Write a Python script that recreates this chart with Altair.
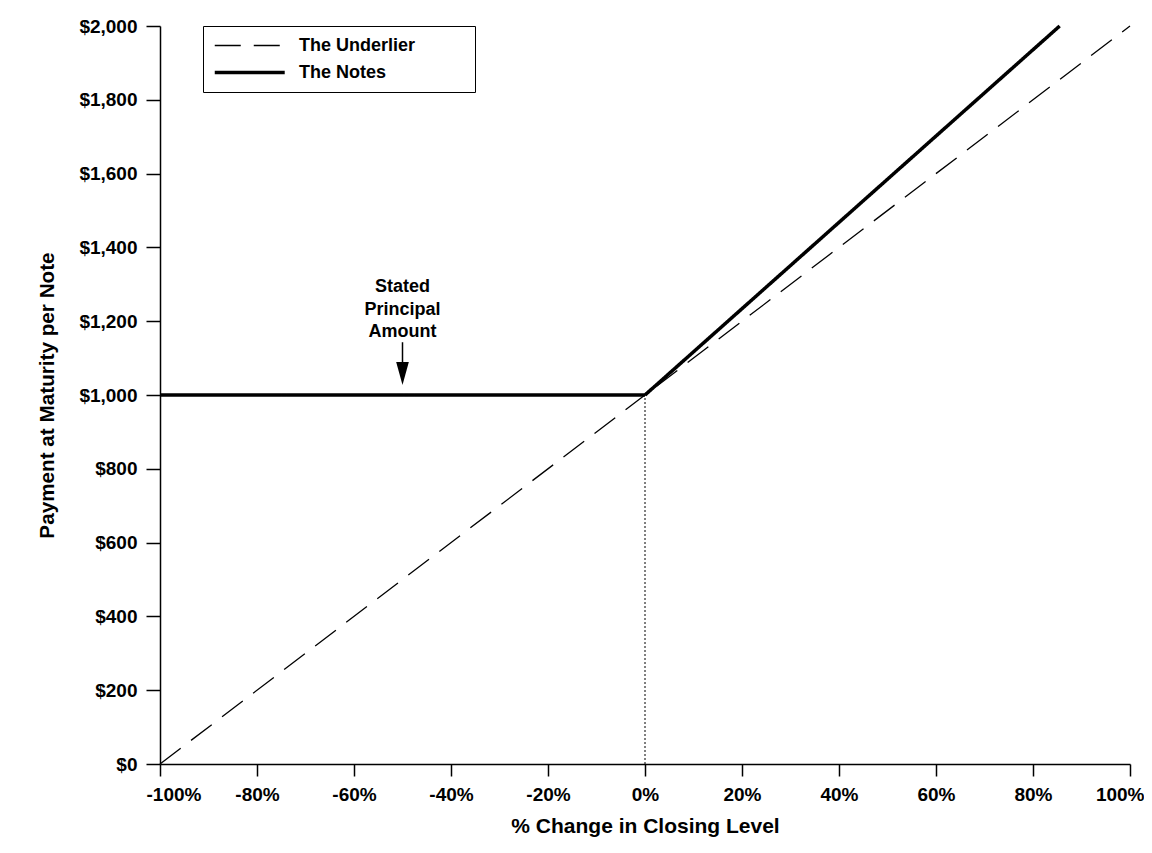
import altair as alt
import pandas as pd

# ---- data ----
series_names = ["The Underlier", "The Notes"]
under_pct = [-100, 100]
under_pay = [0, 2000]
notes_pct = [-100, 0, 85.5]
notes_pay = [1000, 1000, 2000]
x_ticks = [-100, -80, -60, -40, -20, 0, 20, 40, 60, 80, 100]
y_ticks = [0, 200, 400, 600, 800, 1000, 1200, 1400, 1600, 1800, 2000]
ref_pct = [0, 0]
ref_pay = [0, 1000]
ann_lines = ["Stated", "Principal", "Amount"]
ann_pct = [-50, -50, -50]
ann_pay = [1279, 1217, 1157]
arrow_pct = [-50, -50]
arrow_pay = [1143, 1075]
arrowhead_pct = [-50]
arrowhead_pay = [1058]

FONT = "Liberation Sans"

rows = []
for i, (p, v) in enumerate(zip(under_pct, under_pay)):
    rows.append({"pct": p, "pay": v, "series": series_names[0], "o": i})
for i, (p, v) in enumerate(zip(notes_pct, notes_pay)):
    rows.append({"pct": p, "pay": v, "series": series_names[1], "o": i})
lines_df = pd.DataFrame(rows)
ref_df = pd.DataFrame({"pct": ref_pct, "pay": ref_pay})
ann_df = pd.DataFrame({"pct": ann_pct, "pay": ann_pay, "label": ann_lines})
arrow_df = pd.DataFrame({"pct": arrow_pct, "pay": arrow_pay})
head_df = pd.DataFrame({"pct": arrowhead_pct, "pay": arrowhead_pay})

xscale = alt.Scale(domain=[-100, 100], nice=False, zero=False)
yscale = alt.Scale(domain=[0, 2000], nice=False)

x_axis = alt.Axis(
    values=x_ticks, labelExpr="datum.value + '%'", title="% Change in Closing Level",
    tickSize=12, labelPadding=9, titleY=62, titleBaseline="middle",
    labelFlush=True, labelFlushOffset=14,
    titleFontSize=21, labelFontSize=19,
)
y_axis = alt.Axis(
    values=y_ticks, format="$,.0f", title="Payment at Maturity per Note",
    tickSize=14, labelPadding=9, titleX=-113, titleY=369, titleAngle=270, labelFlush=False,
    titleAlign="center", titleBaseline="middle", titleFontSize=20.7, labelFontSize=19,
)

legend = alt.Legend(
    title="\u00a0", titleOrient="right", titlePadding=50, titleColor="white",
    orient="none", legendX=43, legendY=0,
    strokeColor="black", fillColor="white", padding=10,
    symbolType="M-1,0L7,0", symbolSize=306, labelOffset=65,
    labelFont=FONT, labelFontWeight="bold", labelFontSize=18, labelColor="black",
    rowPadding=7,
)

lines = alt.Chart(lines_df).mark_line().encode(
    x=alt.X("pct:Q", scale=xscale, axis=x_axis),
    y=alt.Y("pay:Q", scale=yscale, axis=y_axis),
    color=alt.Color("series:N", scale=alt.Scale(domain=series_names, range=["black", "black"]), legend=legend),
    strokeDash=alt.StrokeDash("series:N", scale=alt.Scale(domain=series_names, range=[[26, 13], [1, 0]]), legend=legend),
    strokeWidth=alt.StrokeWidth("series:N", scale=alt.Scale(domain=series_names, range=[1.3, 3.5]), legend=legend),
    order="o:Q",
)

ref = alt.Chart(ref_df).mark_line(color="black", strokeWidth=1, strokeDash=[2, 2]).encode(
    x=alt.X("pct:Q", scale=xscale), y=alt.Y("pay:Q", scale=yscale)
)

ann = alt.Chart(ann_df).mark_text(
    font=FONT, fontWeight="bold", fontSize=18, color="black", align="center", baseline="alphabetic"
).encode(x=alt.X("pct:Q", scale=xscale), y=alt.Y("pay:Q", scale=yscale), text="label:N")

arrow = alt.Chart(arrow_df).mark_line(color="black", strokeWidth=1.5).encode(
    x=alt.X("pct:Q", scale=xscale), y=alt.Y("pay:Q", scale=yscale)
)

head = alt.Chart(head_df).mark_point(
    shape="M-0.55,-1L0.55,-1L0,1Z", size=529, filled=True, color="black", opacity=1
).encode(x=alt.X("pct:Q", scale=xscale), y=alt.Y("pay:Q", scale=yscale))

chart = alt.layer(ref, lines, arrow, head, ann).properties(
    width=970, height=738,
    autosize=alt.AutoSizeParams(type="none"),
    padding={"left": 152, "top": 18, "right": 14, "bottom": 75},
).configure_view(stroke=None).configure_axis(
    grid=False, domainColor="black", tickColor="black", domainWidth=1.5, tickWidth=1.5,
    labelColor="black", titleColor="black", labelFont=FONT, titleFont=FONT,
    labelFontWeight="bold", titleFontWeight="bold",
)

chart.save("out.html", embed_options={"renderer": "svg", "actions": False})
